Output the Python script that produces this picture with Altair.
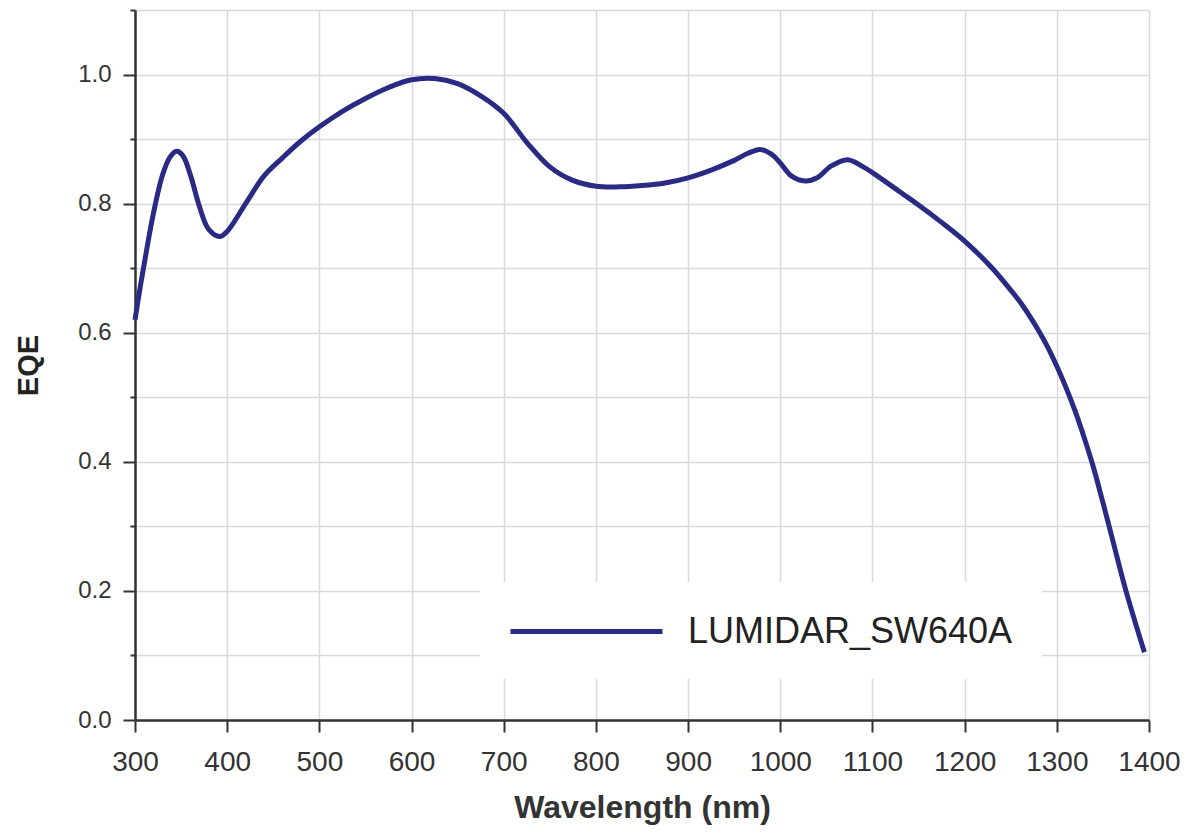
import altair as alt
import pandas as pd

# Values
wavelength = [300, 305, 311, 320, 330, 338, 345, 352, 360, 370, 380, 392, 400, 420, 440, 460,
              480, 500, 525, 550, 575, 600, 625, 650, 675, 700, 725, 750, 775, 800, 825, 850,
              875, 900, 925, 950, 965, 978, 990, 1000, 1012, 1027, 1040, 1055, 1073, 1090,
              1100, 1130, 1150, 1175, 1200, 1230, 1250, 1260, 1270, 1280, 1290, 1300, 1310,
              1320, 1330, 1340, 1350, 1360, 1375, 1395]
eqe = [0.620, 0.665, 0.715, 0.785, 0.845, 0.872, 0.881, 0.874, 0.845, 0.795, 0.760, 0.749,
       0.757, 0.800, 0.843, 0.871, 0.897, 0.919, 0.943, 0.963, 0.980, 0.992, 0.994, 0.986,
       0.967, 0.940, 0.895, 0.857, 0.836, 0.827, 0.826, 0.828, 0.832, 0.840, 0.852, 0.867,
       0.878, 0.884, 0.877, 0.863, 0.843, 0.835, 0.840, 0.858, 0.868, 0.857, 0.848, 0.818,
       0.798, 0.771, 0.742, 0.700, 0.666, 0.648, 0.627, 0.604, 0.578, 0.548, 0.515, 0.478,
       0.436, 0.390, 0.337, 0.282, 0.200, 0.105]
series_name = "LUMIDAR_SW640A"

x_ticks = [300, 400, 500, 600, 700, 800, 900, 1000, 1100, 1200, 1300, 1400]
y_ticks = [0.0, 0.1, 0.2, 0.3, 0.4, 0.5, 0.6, 0.7, 0.8, 0.9, 1.0, 1.1]

df = pd.DataFrame({
    "Wavelength": wavelength,
    "EQE": eqe,
    "Device": [series_name] * len(wavelength),
})

FONT = "Liberation Sans"

chart = alt.Chart(df).mark_line(strokeWidth=5, interpolate="catmull-rom").encode(
    x=alt.X(
        "Wavelength:Q",
        scale=alt.Scale(domain=[300, 1400], nice=False, zero=False),
        axis=alt.Axis(
            values=x_ticks,
            title="Wavelength (nm)",
            format="d",
            grid=True,
            gridColor="#d9d9d9",
            gridWidth=1.5,
            domainColor="#333333",
            domainWidth=2.5,
            tickColor="#333333",
            tickWidth=2,
            tickSize=12,
            labelFont=FONT,
            labelFontSize=28,
            labelColor="#333333",
            labelPadding=16,
            labelFlush=False,
            titleFont=FONT,
            titleFontSize=32,
            titleFontWeight="bold",
            titleColor="#333333",
            titlePadding=16,
        ),
    ),
    y=alt.Y(
        "EQE:Q",
        scale=alt.Scale(domain=[0, 1.1], nice=False),
        axis=alt.Axis(
            values=y_ticks,
            title="EQE",
            labelExpr="round(datum.value*10) % 2 == 0 ? format(datum.value, '.1f') : ''",
            grid=True,
            gridColor="#d9d9d9",
            gridWidth=1.5,
            domainColor="#333333",
            domainWidth=2.5,
            tickColor="#333333",
            tickWidth=2,
            tickSize={"condition": {"test": "round(datum.value*10) % 2 == 0", "value": 12}, "value": 5},
            labelFont=FONT,
            labelFontSize=24,
            labelColor="#333333",
            labelPadding=12,
            labelFlush=False,
            titleFont=FONT,
            titleFontSize=29,
            titleFontWeight="bold",
            titleColor="#222222",
            titlePadding=34,
        ),
    ),
    color=alt.Color(
        "Device:N",
        scale=alt.Scale(range=["#2a2a85"]),
        legend=alt.Legend(
            title=None,
            orient="none",
            legendX=345,
            legendY=572,
            symbolType="M-1,0H7",
            symbolSize=1444,
            symbolStrokeWidth=5,
            labelFont=FONT,
            labelFontSize=36,
            labelColor="#222222",
            labelOffset=137,
            labelLimit=600,
            padding=28,
            fillColor="white",
            strokeColor="white",
        ),
    ),
).properties(
    width=1014,
    height=710,
    autosize=alt.AutoSizeParams(type="none"),
    padding={"left": 127, "top": 2, "right": 37, "bottom": 110},
    background="white",
).configure_view(stroke=None)

chart.save("out.html", embed_options={"renderer": "svg", "actions": False})
